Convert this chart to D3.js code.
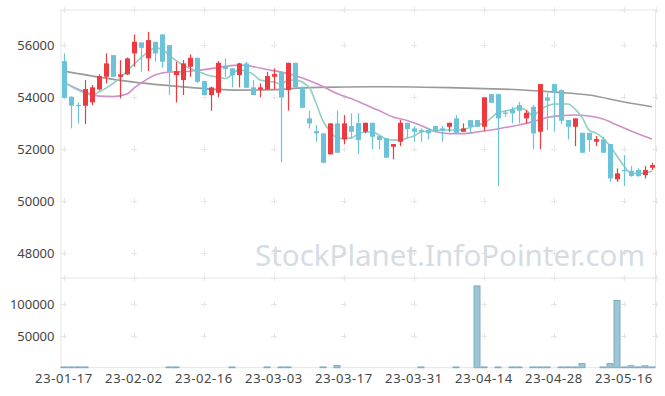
<!DOCTYPE html>
<html>
<head>
<meta charset="utf-8">
<script src="https://cdn.jsdelivr.net/npm/d3@7"></script>
<style>
  body { margin: 0; background: #fff; }
  text { font-family: "Noto Sans", sans-serif; }
</style>
</head>
<body>
<script>
// trading days (yy-mm-dd)
const dates = [
  "23-01-17","23-01-18","23-01-19","23-01-20","23-01-25","23-01-26","23-01-27","23-01-30","23-01-31","23-02-01",
  "23-02-02","23-02-03","23-02-06","23-02-07","23-02-08","23-02-09","23-02-10","23-02-13","23-02-14","23-02-15",
  "23-02-16","23-02-17","23-02-20","23-02-21","23-02-22","23-02-23","23-02-24","23-02-27","23-02-28","23-03-02",
  "23-03-03","23-03-06","23-03-07","23-03-08","23-03-09","23-03-10","23-03-13","23-03-14","23-03-15","23-03-16",
  "23-03-17","23-03-20","23-03-21","23-03-22","23-03-23","23-03-24","23-03-27","23-03-28","23-03-29","23-03-30",
  "23-03-31","23-04-03","23-04-04","23-04-05","23-04-06","23-04-07","23-04-10","23-04-11","23-04-12","23-04-13",
  "23-04-14","23-04-17","23-04-18","23-04-19","23-04-20","23-04-21","23-04-24","23-04-25","23-04-26","23-04-27",
  "23-04-28","23-05-02","23-05-03","23-05-04","23-05-08","23-05-09","23-05-10","23-05-11","23-05-12","23-05-15",
  "23-05-16","23-05-17","23-05-18","23-05-19","23-05-22"
];

const open = [
  55385,54012,53700,53666,53796,54296,54781,55615,54781,54873,
  55680,56104,55488,56127,56412,56000,54846,54654,55165,55512,
  54615,54077,54165,55192,55104,54846,55296,54373,54296,54296,
  54781,54973,54269,55319,54396,53181,52692,52604,51796,52988,
  52373,52885,53000,52665,53012,52500,52412,52089,52281,53012,
  52796,52731,52731,52885,52796,52858,53181,52665,53115,53115,
  52858,54115,54115,53404,53527,53692,53181,53627,52665,53988,
  54500,54269,53115,52858,52627,52627,52281,52373,52192,50835,
  51192,51165,51192,51000,51281
];
const high = [
  55680,54030,53796,54654,54462,54873,55681,55615,55420,55520,
  56412,56104,56512,56127,56412,56000,55358,55423,55641,55512,
  54615,54400,55385,55488,55104,55320,55358,54654,54527,54973,
  55104,54973,55319,55319,54396,53473,52923,52604,52988,53473,
  53308,53373,53388,53012,53012,52500,52412,52192,53115,53012,
  52885,52796,52819,52885,52885,53012,53308,52988,53115,53115,
  53988,54115,54115,53500,53627,53819,53500,53692,54500,54165,
  54500,54300,53115,53181,52627,52627,52500,52473,52192,51258,
  51770,51346,51258,51346,51473
];
const low = [
  53950,52796,52989,52962,53692,54250,54527,54781,53950,54850,
  55165,54973,55000,55360,55127,54077,53796,54077,54781,54540,
  54077,53473,53989,54781,54373,54373,54358,54077,53989,54296,
  54296,51488,53481,54373,53588,52796,52281,51473,51796,51858,
  52181,52412,51808,52600,51988,51988,51666,51604,52115,52412,
  52281,52281,52373,52665,52281,52665,52627,52665,52627,52858,
  52692,53781,50577,53242,52988,52988,52988,51988,51988,52731,
  52665,52962,52373,52115,51858,51896,52115,51858,50742,50742,
  50577,50935,50935,50865,51192
];
const close = [
  53970,53666,53680,54308,54373,54808,55296,54781,54873,55488,
  56127,55896,56192,55680,55358,54973,55000,55296,55512,54588,
  54077,54373,55319,55077,54846,55296,54358,54077,54373,54808,
  54885,53988,55319,54373,53588,52988,52604,51473,52988,51858,
  52988,52665,52346,53012,52473,52346,51666,52192,53012,52769,
  52665,52665,52604,52665,52704,53012,52627,52796,52858,52858,
  53988,53781,53181,53350,53373,53473,53396,52604,54500,53858,
  54165,53089,52858,53181,51858,52346,52385,51858,50873,51065,
  51165,50962,50962,51192,51385
];
const volume = [
  1200,1200,1200,1200,0,0,0,0,0,0,
  0,0,0,0,0,1200,1200,0,0,0,
  0,0,0,0,1200,0,0,0,0,1200,
  0,1200,1200,0,0,0,0,1200,0,3500,
  0,0,0,0,0,0,0,0,0,0,
  0,1200,0,0,0,0,1200,0,0,129000,
  1200,0,1200,0,1200,1200,0,1200,1200,1200,
  0,1200,1200,1200,6500,0,0,1200,6500,106000,
  1200,3000,1200,3000,1200
];

// moving averages (index, value)
const ma5Idx = [0,2,4,5,6,8,10,12,13,14,15,17,19,21,22,23,25,26,27,28,30,31,32,33,35,36,37,38,39,40,41,42,43,44,45,46,47,48,49,50,51,52,53,54,55,56,57,58,59,60,61,62,63,64,65,66,67,68,69,70,71,72,73,74,75,76,77,78,79,80,81,82,83,84];
const ma5 = [54577,54269,54077,54192,54346,54731,55269,55731,55885,55846,55615,55231,55000,54808,54769,54712,55038,55000,54885,54654,54577,54500,54654,54654,54385,53770,53077,52692,52423,52404,52423,52577,52654,52654,52538,52385,52346,52346,52423,52500,52654,52692,52712,52731,52731,52731,52750,52827,52923,53000,53192,53404,53462,53519,53596,53500,53288,53500,53654,53731,53731,53731,53538,53231,52731,52615,52423,52115,51731,51346,51077,51058,51077,51154];
const ma20Idx = [0,3,5,7,9,10,11,12,13,15,17,19,21,23,25,27,29,31,33,35,37,39,41,43,45,47,49,51,53,55,57,59,61,63,65,67,69,71,73,75,77,79,81,83,84];
const ma20 = [54558,54192,54038,54019,54115,54346,54538,54712,54846,54962,54973,55027,55096,55181,55231,55173,55058,54962,54827,54635,54404,54135,53942,53712,53481,53231,53096,52904,52673,52596,52596,52654,52731,52827,52923,53058,53212,53288,53308,53269,53154,52923,52692,52481,52385];
const ma60Idx = [0,5,10,15,20,25,30,35,40,45,50,55,60,65,70,75,80,84];
const ma60 = [55000,54769,54577,54442,54327,54269,54288,54365,54385,54396,54385,54365,54327,54281,54192,54077,53808,53627];

const priceTicks = [48000, 50000, 52000, 54000, 56000];
const volTicks = [50000, 100000];
const labelEvery = 10;

const W = 665, H = 396;
const left = 60.5, right = 655.5;
const pTop = 10, pBottom = 278, vBottom = 367.7;

const svg = d3.select("body").append("svg")
  .attr("width", W).attr("height", H);

const x = d3.scaleBand().domain(d3.range(dates.length)).range([left, right]);
const cx = i => x(i) + x.bandwidth() / 2;
const y = d3.scaleLinear().domain([47040, 57350]).range([pBottom, pTop]);
const yv = d3.scaleLinear().domain([0, 141500]).range([vBottom, pBottom]);

const xTickIdx = d3.range(0, dates.length, labelEvery);

// frame
const frame = svg.append("g").attr("stroke", "#e6e6e6").attr("fill", "none");
frame.append("line").attr("x1", left + 0.5).attr("x2", left + 0.5).attr("y1", pTop).attr("y2", vBottom);
frame.append("line").attr("x1", right).attr("x2", right).attr("y1", pTop).attr("y2", vBottom);
frame.append("line").attr("x1", left).attr("x2", right).attr("y1", pTop).attr("y2", pTop);
frame.append("line").attr("x1", left).attr("x2", right).attr("y1", pBottom).attr("y2", pBottom);
frame.append("line").attr("x1", left).attr("x2", right).attr("y1", vBottom).attr("y2", vBottom);

// grid crosses
const crossYs = [pTop].concat(priceTicks.map(y), [pBottom], volTicks.map(yv));
const crossXs = xTickIdx.map(cx).concat([right]);
const crosses = [];
crossXs.forEach(px => crossYs.forEach(py => crosses.push([px, py])));
const cg = svg.append("g").attr("stroke", "#e6e6e6").attr("stroke-width", 1);
cg.selectAll("g").data(crosses).enter().append("path")
  .attr("d", d => `M${d[0] - 3},${Math.round(d[1]) + 0.5}H${d[0] + 3}M${Math.round(d[0]) + 0.5},${d[1] - 3}V${d[1] + 3}`);

// watermark
svg.append("text")
  .attr("x", 450).attr("y", 266)
  .attr("text-anchor", "middle")
  .attr("font-size", 29)
  .attr("fill", "#d5dce3")
  .attr("textLength", 390).attr("lengthAdjust", "spacingAndGlyphs")
  .text("StockPlanet.InfoPointer.com");

// y axes labels
const yAxis = d3.axisLeft(y).tickValues(priceTicks).tickSize(0).tickPadding(6).tickFormat(d3.format("d"));
svg.append("g").attr("transform", `translate(${left},0)`).call(yAxis)
  .call(g => g.select(".domain").remove())
  .selectAll("text").attr("font-size", 13).attr("fill", "#444").style("font-family", "Noto Sans");

const vAxis = d3.axisLeft(yv).tickValues(volTicks).tickSize(0).tickPadding(6).tickFormat(d3.format("d"));
svg.append("g").attr("transform", `translate(${left},0)`).call(vAxis)
  .call(g => g.select(".domain").remove())
  .selectAll("text").attr("font-size", 13).attr("fill", "#444").style("font-family", "Noto Sans");

const xAxis = d3.axisBottom(x).tickValues(xTickIdx).tickSize(0).tickPadding(6).tickFormat(i => dates[i]);
svg.append("g").attr("transform", `translate(0,${vBottom})`).call(xAxis)
  .call(g => g.select(".domain").remove())
  .selectAll("text").attr("font-size", 13).attr("fill", "#444")
  .attr("letter-spacing", 0.6).style("font-family", "Noto Sans");

// volume bars
svg.append("g").selectAll("rect").data(volume.map((v, i) => ({ v, i })).filter(d => d.v > 0))
  .enter().append("rect")
  .attr("x", d => x(d.i) + 0.5)
  .attr("width", x.bandwidth() - 1)
  .attr("y", d => yv(d.v))
  .attr("height", d => vBottom - yv(d.v))
  .attr("fill", "#9dc5d6")
  .attr("stroke", "#7fadc3")
  .attr("stroke-width", 1);

// moving averages
const line = d3.line().x(d => cx(d[0])).y(d => y(d[1])).curve(d3.curveMonotoneX);
const maSeries = [
  { idx: ma60Idx, val: ma60, color: "#9a9a9a", w: 1.6 },
  { idx: ma20Idx, val: ma20, color: "#cf8fc8", w: 1.6 },
  { idx: ma5Idx, val: ma5, color: "#8ecfc0", w: 1.6 }
];
svg.append("g").selectAll("path").data(maSeries).enter().append("path")
  .attr("d", s => line(s.idx.map((k, j) => [k, s.val[j]])))
  .attr("fill", "none")
  .attr("stroke", s => s.color)
  .attr("stroke-width", s => s.w);

// candles
const candles = dates.map((d, i) => ({ i, o: open[i], h: high[i], l: low[i], c: close[i] }));
const up = "#ee3a3f", down = "#6cc3d9";
const cd = svg.append("g").selectAll("g").data(candles).enter().append("g");
cd.append("line")
  .attr("x1", d => Math.round(cx(d.i)) + 0.5).attr("x2", d => Math.round(cx(d.i)) + 0.5)
  .attr("y1", d => y(d.h)).attr("y2", d => y(d.l))
  .attr("stroke", d => d.c >= d.o ? up : down).attr("stroke-width", 1.2);
cd.append("rect")
  .attr("x", d => Math.round(cx(d.i)) - 2)
  .attr("width", 5)
  .attr("y", d => y(Math.max(d.o, d.c)))
  .attr("height", d => Math.max(1.2, Math.abs(y(d.o) - y(d.c))))
  .attr("fill", d => d.c >= d.o ? up : down);
</script>
</body>
</html>
